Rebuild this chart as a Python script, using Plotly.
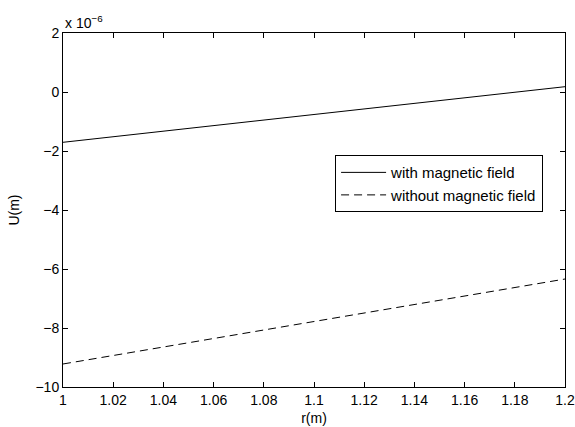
import plotly.graph_objects as go

# Radial coordinate (m) and displacement U (m)
r = [1.0, 1.1, 1.2]
u_with_field = [-1.705e-6, -0.76e-6, 0.18e-6]
u_without_field = [-9.22e-6, -7.78e-6, -6.34e-6]

y_ticks = [-10e-6, -8e-6, -6e-6, -4e-6, -2e-6, 0.0, 2e-6]
y_ticktext = ["\u221210", "\u22128", "\u22126", "\u22124", "\u22122", "0", "2"]
x_ticks = [1.0, 1.02, 1.04, 1.06, 1.08, 1.1, 1.12, 1.14, 1.16, 1.18, 1.2]
x_ticktext = ["1", "1.02", "1.04", "1.06", "1.08", "1.1", "1.12", "1.14", "1.16", "1.18", "1.2"]

font = dict(family="Liberation Sans, Arial, sans-serif", size=14, color="black")
legend_font = dict(family="Liberation Sans, Arial, sans-serif", size=15, color="black")

fig = go.Figure()
fig.add_trace(go.Scatter(
    x=r, y=u_with_field, mode="lines", name="with magnetic field",
    line=dict(color="black", width=1),
))
fig.add_trace(go.Scatter(
    x=r, y=u_without_field, mode="lines", name="without magnetic field",
    line=dict(color="black", width=1, dash="8px,5px"),
))

axis_common = dict(
    showgrid=False, zeroline=False, showline=True, linecolor="black",
    linewidth=1, mirror="ticks", ticks="inside", ticklen=5,
    tickcolor="black", tickwidth=1, tickfont=font, automargin=False,
)

fig.update_xaxes(
    range=[1.0, 1.2], tickvals=x_ticks, ticktext=x_ticktext,
    title=dict(text="r(m)", font=font, standoff=6), **axis_common,
)
fig.update_yaxes(
    range=[-10e-6, 2e-6], tickvals=y_ticks, ticktext=y_ticktext,
    title=dict(text="U(m)", font=font, standoff=12), **axis_common,
)

fig.add_annotation(
    xref="paper", yref="paper", x=0, y=1, xanchor="left", yanchor="bottom",
    yshift=0, text="x 10<sup>\u22126</sup>", showarrow=False, font=font,
)

fig.update_layout(
    width=575, height=427,
    margin=dict(l=63, r=10, t=33, b=40),
    paper_bgcolor="white", plot_bgcolor="white",
    font=font,
    showlegend=True,
    legend=dict(
        x=0.542, y=0.655, xanchor="left", yanchor="top",
        bgcolor="white", bordercolor="black", borderwidth=1,
        font=legend_font, tracegroupgap=0, itemwidth=45,
    ),
)

fig.write_html("out.html")
